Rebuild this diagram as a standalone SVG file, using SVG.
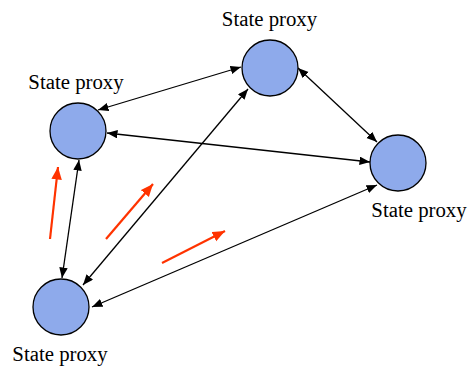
<svg xmlns="http://www.w3.org/2000/svg" width="471" height="366" viewBox="0 0 471 366">
  <style>
    .proxy { fill: #8eaaeb; stroke: #000; stroke-width: 1.3; }
    .label { font-family: "Liberation Serif", "Times New Roman", serif; font-size: 20.8px; fill: #000; text-anchor: middle; }
    .link { stroke: #000; stroke-width: 1.3; fill: none; marker-start: url(#ah); marker-end: url(#ah); }
    .flow { stroke: #ff3300; stroke-width: 2.2; fill: none; marker-end: url(#rh); }
  </style>
  <defs>
    <marker id="ah" markerUnits="userSpaceOnUse" markerWidth="11" markerHeight="9" refX="10.5" refY="4.25" orient="auto-start-reverse">
      <path d="M0,0 L10.5,4.25 L0,8.5 z" fill="#000"/>
    </marker>
    <marker id="rh" markerUnits="userSpaceOnUse" markerWidth="13" markerHeight="11" refX="12.5" refY="5.25" orient="auto">
      <path d="M0,0 L12.5,5.25 L0,10.5 z" fill="#ff3300"/>
    </marker>
  </defs>

  <g id="connectors">
    <line class="link" x1="98" y1="110" x2="241" y2="67"/>
    <line class="link" x1="107" y1="133" x2="370" y2="162"/>
    <line class="link" x1="298" y1="68" x2="377" y2="142"/>
    <line class="link" x1="79" y1="160" x2="62" y2="278"/>
    <line class="link" x1="248" y1="89" x2="83" y2="285"/>
    <line class="link" x1="92" y1="307" x2="377" y2="185"/>
  </g>

  <g id="flows">
    <line class="flow" x1="50" y1="239" x2="58" y2="167"/>
    <line class="flow" x1="106" y1="239" x2="153" y2="184"/>
    <line class="flow" x1="162" y1="263" x2="225" y2="231"/>
  </g>

  <g id="proxy-top">
    <circle class="proxy" cx="270" cy="68" r="28"/>
    <text class="label" x="269.5" y="26">State proxy</text>
  </g>
  <g id="proxy-left">
    <circle class="proxy" cx="78" cy="131" r="28"/>
    <text class="label" x="76" y="89">State proxy</text>
  </g>
  <g id="proxy-right">
    <circle class="proxy" cx="398" cy="163" r="28"/>
    <text class="label" x="419" y="217">State proxy</text>
  </g>
  <g id="proxy-bottom">
    <circle class="proxy" cx="61" cy="307" r="28"/>
    <text class="label" x="60" y="361">State proxy</text>
  </g>
</svg>
